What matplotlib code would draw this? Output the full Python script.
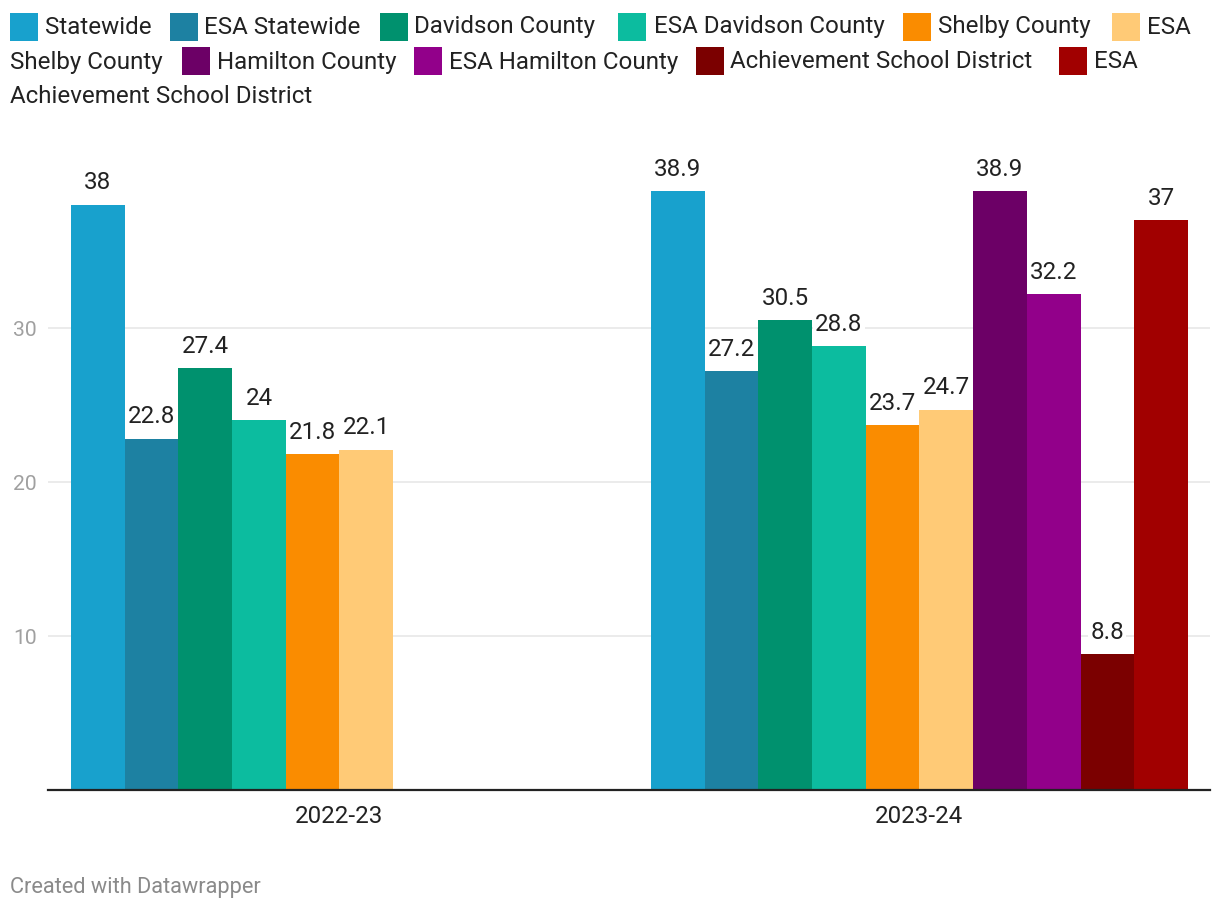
import numpy as np
import matplotlib
matplotlib.use("Agg")
import matplotlib.pyplot as plt
from matplotlib.patches import Rectangle

plt.rcParams['font.family'] = ['Roboto', 'DejaVu Sans']

years = ['2022-23', '2023-24']
series = ['Statewide', 'ESA Statewide', 'Davidson County', 'ESA Davidson County',
          'Shelby County', 'ESA Shelby County', 'Hamilton County',
          'ESA Hamilton County', 'Achievement School District',
          'ESA Achievement School District']
statewide = [38, 38.9]
esa_statewide = [22.8, 27.2]
davidson = [27.4, 30.5]
esa_davidson = [24, 28.8]
shelby = [21.8, 23.7]
esa_shelby = [22.1, 24.7]
hamilton = [np.nan, 38.9]
esa_hamilton = [np.nan, 32.2]
asd = [np.nan, 8.8]
esa_asd = [np.nan, 37]
values = [statewide, esa_statewide, davidson, esa_davidson, shelby, esa_shelby,
          hamilton, esa_hamilton, asd, esa_asd]
colors = ['#18a1cd', '#1d81a2', '#00916e', '#0cbc9f', '#fa8c00', '#ffca76',
          '#6c0066', '#92008a', '#7b0000', '#a10000']

W, H = 1220, 912
fig = plt.figure(figsize=(W / 100, H / 100), dpi=100)
ax = fig.add_axes([48 / W, 121 / H, (1210 - 48) / W, 641 / H])

w = 53.7 / 580
FS = 17.4
for i, (vals, c) in enumerate(zip(values, colors)):
    for g, v in enumerate(vals):
        if np.isnan(v):
            continue
        x = g + (i - 4.5) * w
        ax.bar(x, v, width=w, color=c, zorder=2)
        ax.annotate(f'{v:g}', (x, v), xytext=(0, 16.5), textcoords='offset points',
                    ha='center', va='center', fontsize=FS, color='#222222', zorder=3,
                    bbox=dict(fc='white', ec='none', pad=1.5))

ax.set_xlim(-0.5026, 1.501)
ax.set_ylim(0, 641 / 15.4)
ax.set_yticks([10, 20, 30])
ax.set_xticks([0, 1])
ax.set_xticklabels(years)
ax.grid(axis='y', color='#e6e6e6', linewidth=1.1, zorder=0)
ax.set_axisbelow(True)
for s in ['top', 'right', 'left']:
    ax.spines[s].set_visible(False)
ax.spines['bottom'].set_color('#222222')
ax.spines['bottom'].set_linewidth(1.6)
ax.spines['bottom'].set_zorder(4)
ax.tick_params(axis='y', length=0, pad=8, labelsize=15.2, labelcolor='#a0a0a0')
ax.tick_params(axis='x', length=0, pad=10, labelsize=FS, labelcolor='#222222')


def px(x, y):
    return x / W, 1 - y / H


# legend, laid out like the Datawrapper flow legend (square top-left corners)
squares = [(10, 14), (170, 14), (380, 14), (618, 14), (903, 14), (1112, 14),
           (182, 48), (414, 48), (696, 48), (1059, 48)]
labels = [(45, 33.5, 'Statewide'), (204, 33.5, 'ESA Statewide'),
          (414, 33.5, 'Davidson County'), (654, 33.5, 'ESA Davidson County'),
          (938, 33.5, 'Shelby County'), (1147, 33.5, 'ESA'),
          (10, 68.5, 'Shelby County'), (217, 68.5, 'Hamilton County'),
          (449, 68.5, 'ESA Hamilton County'), (730, 68.5, 'Achievement School District'),
          (1094, 68.5, 'ESA'), (10, 103, 'Achievement School District')]
for (sx, sy), c in zip(squares, colors):
    x0, y0 = px(sx, sy + 28)
    fig.add_artist(Rectangle((x0, y0), 28 / W, 28 / H, transform=fig.transFigure,
                             facecolor=c, edgecolor='none'))
for tx, ty, t in labels:
    fig.text(*px(tx, ty), t, ha='left', va='baseline', fontsize=FS, color='#222222')

fig.text(*px(10, 888), 'Created with Datawrapper', ha='left', va='center',
         fontsize=15.7, color='#8a8a8a')

fig.savefig('out.png', dpi=100, facecolor='white')
